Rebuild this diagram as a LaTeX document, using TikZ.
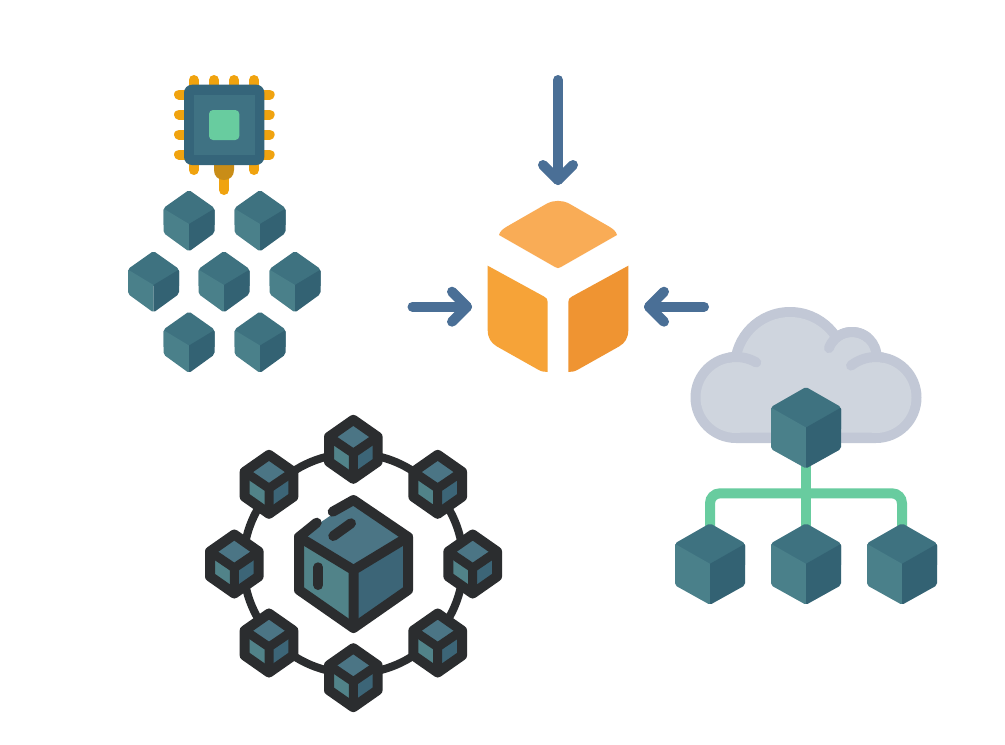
\documentclass[tikz,border=0pt]{standalone}
\definecolor{ctop}{HTML}{3E7280}
\definecolor{cleft}{HTML}{4A808A}
\definecolor{cright}{HTML}{336273}
\definecolor{ntop}{HTML}{4B7585}
\definecolor{nleft}{HTML}{518389}
\definecolor{nright}{HTML}{3C6577}
\definecolor{dark}{HTML}{2B2D2F}
\definecolor{chippin}{HTML}{F0A30F}
\definecolor{pindark}{HTML}{C98D17}
\definecolor{mint}{HTML}{68CC9F}
\definecolor{chipout}{HTML}{35657A}
\definecolor{chipin}{HTML}{3F7283}
\definecolor{arrowblue}{HTML}{4A6F96}
\definecolor{cloudout}{HTML}{C2C8D6}
\definecolor{cloudin}{HTML}{CFD5DE}
\definecolor{boxtop}{HTML}{F9AC56}
\definecolor{boxleft}{HTML}{F6A338}
\definecolor{boxright}{HTML}{EF9432}
\tikzset{
  pinline/.style={chippin,line width=10pt,line cap=round},
  bluearrow/.style={arrowblue,line width=10pt,line cap=round,line join=round},
  mintline/.style={mint,line width=10pt},
  cloudline/.style={cloudout,line width=10pt,line cap=round},
  darkline/.style={dark,line cap=round,line join=round},
}
% cx, top y, half width, shoulder dy, centre dy, lower shoulder dy, height
\newcommand{\tealcube}[7]{%
  \begin{scope}
    \clip[rounded corners=2pt] (#1,#2) -- (#1+#3,#2+#4) -- (#1+#3,#2+#6) -- (#1,#2+#7) -- (#1-#3,#2+#6) -- (#1-#3,#2+#4) -- cycle;
    \fill[ctop] (#1-#3-1,#2-1) rectangle (#1+#3+1,#2+#5+1);
    \fill[cleft] (#1-#3-1,#2+#4) -- (#1,#2+#5) -- (#1,#2+#7+1) -- (#1-#3-1,#2+#7+1) -- cycle;
    \fill[cright] (#1+#3+1,#2+#4) -- (#1,#2+#5) -- (#1,#2+#7+1) -- (#1+#3+1,#2+#7+1) -- cycle;
  \end{scope}}
\newcommand{\smallcube}[2]{\tealcube{#1}{#2}{25.5}{18}{34}{43}{61.5}}
\newcommand{\bigcube}[2]{\tealcube{#1}{#2}{35}{20}{40.5}{62}{81.5}}
% cx, cy
\newcommand{\netcube}[2]{%
  \fill[ntop] (#1,#2-29.5) -- (#1+24.3,#2-12.5) -- (#1,#2+4) -- (#1-24.3,#2-12.5) -- cycle;
  \fill[nleft] (#1-24.3,#2-12.5) -- (#1,#2+4) -- (#1,#2+29.5) -- (#1-24.3,#2+12.5) -- cycle;
  \fill[nright] (#1+24.3,#2-12.5) -- (#1,#2+4) -- (#1,#2+29.5) -- (#1+24.3,#2+12.5) -- cycle;
  \draw[darkline,line width=10pt] (#1,#2-29.5) -- (#1+24.3,#2-12.5) -- (#1+24.3,#2+12.5) -- (#1,#2+29.5) -- (#1-24.3,#2+12.5) -- (#1-24.3,#2-12.5) -- cycle;
  \draw[darkline,line width=9pt] (#1-24.3,#2-12.5) -- (#1,#2+4) -- (#1+24.3,#2-12.5) (#1,#2+4) -- (#1,#2+29.5);}
\begin{document}
\begin{tikzpicture}[x=1pt,y=-1pt]
\useasboundingbox (0,0) rectangle (1005,745);
\fill[white] (0,0) rectangle (1005,745);

% chip pins
\foreach \x in {193.7,214,234,254}
  \draw[pinline] (\x,80) -- (\x,95);
\foreach \x in {193.7,254}
  \draw[pinline] (\x,155) -- (\x,170);
\foreach \y in {94.5,114.5,134.5,154.5} {
  \draw[pinline] (179,\y) -- (195,\y);
  \draw[pinline] (255,\y) -- (269.7,\y);
}
\draw[pinline] (224,170) -- (224,190);
\fill[pindark] (214,160) -- (234,160) -- (234,170) .. controls (234,176) and (230,180) .. (224,180) .. controls (218,180) and (214,176) .. (214,170) -- cycle;
\fill[chipout,rounded corners=8pt] (184,84.7) rectangle (264.3,165);
\fill[chipin] (193.7,95) rectangle (254.7,155);
\fill[mint,rounded corners=4pt] (209,110) rectangle (239.3,140);

% small cubes
\smallcube{189}{190}
\smallcube{260}{190}
\smallcube{153.5}{251}
\smallcube{224}{251}
\smallcube{295}{251}
\smallcube{189}{311.5}
\smallcube{260}{311.5}

% orange box
\fill[boxtop] (499,235) .. controls (500,231) and (503,229) .. (507,226.5) -- (547,203.5) .. controls (554,200) and (562,200) .. (569,203.5) -- (609,226.5) .. controls (613,229) and (616,231) .. (617,235) -- (561,267) .. controls (559,268.5) and (557,268.5) .. (555,267) -- cycle;
\fill[boxleft] (487.7,265.7) -- (544,296.5) .. controls (546.5,298) and (547.7,299) .. (547.7,302) -- (547.7,372) .. controls (544,372) and (541,371.5) .. (537,369) -- (497,346.5) .. controls (491,343) and (487.7,338) .. (487.7,330) -- cycle;
\fill[boxright] (628.3,265.7) -- (572,296.5) .. controls (569.5,298) and (568.3,299) .. (568.3,302) -- (568.3,372) .. controls (572,372) and (575,371.5) .. (579,369) -- (619,346.5) .. controls (625,343) and (628.3,338) .. (628.3,330) -- cycle;

% arrows
\coordinate (tipd) at (558,180);
\coordinate (taild) at (558,80);
\coordinate (tipl) at (467,306.7);
\coordinate (taill) at (412.5,306.7);
\coordinate (tipr) at (649,306.7);
\coordinate (tailr) at (704,306.7);
\draw[bluearrow] (taild) -- (tipd);
\draw[bluearrow] (543,165) -- (tipd) -- (573,165);
\draw[bluearrow] (taill) -- (tipl);
\draw[bluearrow] (452,291.7) -- (tipl) -- (452,321.7);
\draw[bluearrow] (tailr) -- (tipr);
\draw[bluearrow] (664,291.7) -- (tipr) -- (664,321.7);

% cloud
\fill[cloudout] (736,397.5) circle[radius=45.5pt] (876,397.5) circle[radius=45.5pt]
  (790,367) circle[radius=60pt] (852,356.5) circle[radius=29.5pt]
  (736,397.5) rectangle (876,443);
\fill[cloudin] (736,397.5) circle[radius=35.5pt] (876,397.5) circle[radius=35.5pt]
  (790,367) circle[radius=50pt] (852,356.5) circle[radius=19.5pt]
  (736,365) rectangle (876,432.7);
\draw[cloudline] plot[domain=60:100,samples=20] ({736+40.5*cos(\x)},{397.5-40.5*sin(\x)});
\draw[cloudline] plot[domain=80:128,samples=20] ({876+40.5*cos(\x)},{397.5-40.5*sin(\x)});
\draw[cloudline] plot[domain=50:160,samples=30] ({852+24.5*cos(\x)},{356.5-24.5*sin(\x)});

% tree connector
\coordinate (root) at (806,460);
\coordinate (kidl) at (710,530);
\coordinate (kidm) at (806,530);
\coordinate (kidr) at (902,530);
\draw[mintline] (root) -- (kidm);
\draw[mintline,rounded corners=10pt] (kidl) -- (710,493.3) -- (902,493.3) -- (kidr);
\bigcube{806}{387}
\bigcube{710}{523.3}
\bigcube{806}{523.3}
\bigcube{902}{523.3}

% network ring
\draw[dark,line width=8pt] (353.3,563.5) circle[radius=110pt];
\netcube{353.3}{449.3}
\netcube{437.7}{484.3}
\netcube{472.7}{564}
\netcube{437.7}{643}
\netcube{353.3}{677.7}
\netcube{269}{643}
\netcube{234.3}{564}
\netcube{269}{484.3}

% central cube
\fill[ntop] (353.5,500) -- (408,537) -- (353.5,570) -- (299,537) -- cycle;
\fill[nleft] (299,537) -- (353.5,570) -- (353.5,628) -- (299,590) -- cycle;
\fill[nright] (408,537) -- (353.5,570) -- (353.5,628) -- (408,590) -- cycle;
\draw[darkline,line width=10pt] (332.7,511.7) -- (353.5,500) -- (408,537) -- (408,590) -- (353.5,628) -- (299,590) -- (299,537) -- (316.7,522.7);
\draw[darkline,line width=10pt] (299,537) -- (353.5,570) -- (408,537) (353.5,570) -- (353.5,628);
\draw[darkline,line width=10pt] (333.3,536) -- (351,523.3);
\draw[darkline,line width=10pt] (318.3,567.3) -- (318.3,585);
\end{tikzpicture}
\end{document}
